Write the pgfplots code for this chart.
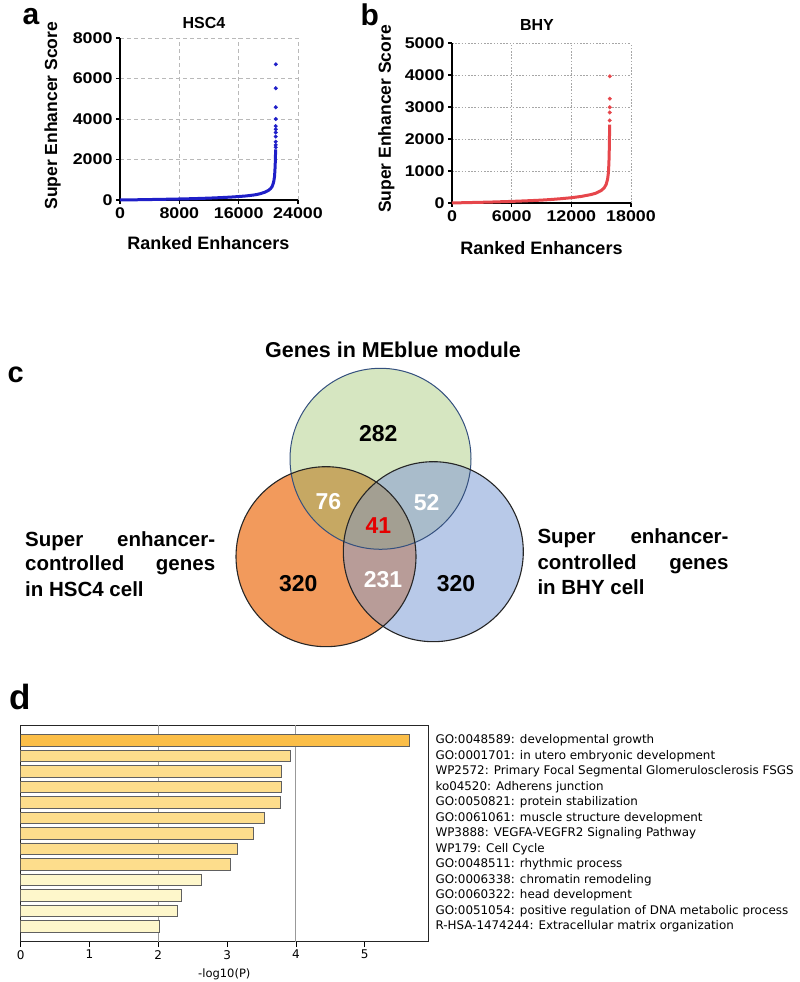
\documentclass[border=0pt]{standalone}
\usepackage{fontspec}
\setmainfont{Liberation Sans}
\newfontfamily\widefont[FakeStretch=1.15]{Liberation Sans}
\newfontfamily\dvs{DejaVu Sans}
\usepackage{pgfplots}
\pgfplotsset{compat=1.18}
\definecolor{hscblue}{HTML}{1F1FC8}
\definecolor{bhyred}{HTML}{E6464B}
\definecolor{vgreen}{HTML}{D6E6C1}
\definecolor{vorange}{HTML}{F29A5C}
\definecolor{vblue}{HTML}{B8C9E8}
\definecolor{vtl}{HTML}{C6A863}
\definecolor{vtr}{HTML}{A9BCCB}
\definecolor{vlr}{HTML}{B89C98}
\definecolor{vall}{HTML}{A39F92}
\definecolor{vedge}{HTML}{34507E}
\definecolor{barA}{HTML}{FBBE48}
\definecolor{barB}{HTML}{FDDD8C}
\definecolor{barC}{HTML}{FEF7CB}
\pgfplotsset{
  scatterpanel/.style={
    anchor=south west, scale only axis, clip=false,
    axis x line*=bottom, axis y line*=left,
    axis line style={line width=1.8pt,-},
    grid=major,
    tick align=outside, major tick length=4pt,
    tick style={line width=1.5pt, black},
    scaled ticks=false,
    /pgf/number format/1000 sep={},
    /pgf/number format/assume math mode=true,
    ticklabel style={font=\widefont\bfseries\fontsize{15.5}{16}\selectfont},
    xlabel={Ranked Enhancers}, ylabel={Super Enhancer Score},
    xlabel style={font=\bfseries\fontsize{18}{18}\selectfont, anchor=center},
    ylabel style={font=\bfseries\fontsize{17.5}{18}\selectfont, anchor=center, rotate=0},
  }
}
\begin{document}
\begin{tikzpicture}[x=1pt,y=1pt]
\useasboundingbox (0,0) rectangle (800,982);
% ---------------- panel a
\node[anchor=base west, font=\bfseries\fontsize{30}{30}\selectfont] at (19,957) {a};
\begin{axis}[scatterpanel, at={(120pt,782pt)}, width=178pt, height=162pt,
  xmin=0, xmax=24000, ymin=0, ymax=8000,
  xtick={0,8000,16000,24000}, ytick={0,2000,4000,6000,8000},
  major grid style={dash pattern=on 4pt off 3pt, gray!55, line width=0.7pt},
  xlabel style={at={(axis description cs:0.497,-0.265)}},
  ylabel style={at={(axis description cs:-0.379,0.52)}}]
\addplot[hscblue, line width=3pt, no marks] coordinates {
(0,0) (1000,5) (2000,10) (3000,15) (4000,22) (5000,28) (6000,35) (7000,42) (8000,50)
(9000,58) (10000,68) (11000,80) (12000,92) (13000,108) (14000,125) (15000,145)
(16000,170) (17000,200) (18000,245) (18500,275) (19000,320) (19500,380) (20000,470)
(20300,560) (20500,660) (20650,800) (20750,950) (20830,1150) (20880,1400)
(20920,1700) (20950,2000) (20970,2300) (20985,2500)};
\addplot[hscblue, only marks, mark=*, mark size=1.8pt] coordinates {
(20990,2600) (20993,2720) (20995,2880) (20996,3130) (20997,3330) (20998,3490)
(20999,3650) (21000,4000) (21001,4580) (21002,5520) (21003,6700)};
\end{axis}
\node[font=\bfseries\fontsize{16}{16}\selectfont] at (204,959) {HSC4};
% ---------------- panel b
\node[anchor=base west, font=\bfseries\fontsize{30}{30}\selectfont] at (357,956) {b};
\begin{axis}[scatterpanel, at={(452pt,779pt)}, width=179pt, height=160pt,
  xmin=0, xmax=18000, ymin=0, ymax=5000,
  xtick={0,6000,12000,18000}, ytick={0,1000,2000,3000,4000,5000},
  major grid style={dash pattern=on 1.6pt off 1.6pt, gray!70, line width=0.8pt},
  xlabel style={at={(axis description cs:0.5,-0.28)}},
  ylabel style={at={(axis description cs:-0.367,0.525)}}]
\addplot[bhyred, line width=3pt, no marks] coordinates {
(0,0) (1000,8) (2000,15) (3000,22) (4000,30) (5000,40) (6000,50) (7000,62) (8000,75)
(9000,90) (10000,110) (11000,135) (12000,165) (13000,205) (14000,265) (14500,310)
(15000,390) (15300,470) (15500,580) (15650,750) (15730,950) (15780,1250)
(15810,1600) (15830,1950) (15845,2250) (15855,2450)};
\addplot[bhyred, only marks, mark=*, mark size=1.8pt] coordinates {
(15860,2580) (15862,2830) (15864,2990) (15866,3260) (15870,3960)};
\end{axis}
\node[font=\bfseries\fontsize{16}{16}\selectfont] at (537,957) {BHY};
% ---------------- panel c (Venn)
\node[anchor=base west, font=\bfseries\fontsize{29}{29}\selectfont] at (4,599) {c};
\node[anchor=base, font=\bfseries\fontsize{21.5}{22}\selectfont] at (393,624.7) {Genes in MEblue module};
\def\Etop{(380.5,523.2) circle [radius=90.5]}
\def\Eleft{(326,425.3) circle [radius=90]}
\def\Eright{(433.3,430.3) circle [radius=90]}
\fill[vgreen] \Etop;
\fill[vorange] \Eleft;
\fill[vblue] \Eright;
\begin{scope}\clip \Etop; \fill[vtl] \Eleft; \fill[vtr] \Eright; \end{scope}
\begin{scope}\clip \Eleft; \fill[vlr] \Eright; \end{scope}
\begin{scope}\clip \Etop; \clip \Eleft; \fill[vall] \Eright; \end{scope}
\draw[vedge, line width=1pt] \Etop;
\draw[black!85, line width=1.1pt] \Eleft;
\draw[black!85, line width=1.1pt] \Eright;
\begin{scope}[every node/.style={font=\bfseries\fontsize{23}{23}\selectfont}]
\node at (378.3,548.7) {282};
\node[white] at (328.3,480.3) {76};
\node[white] at (426.7,479.3) {52};
\node[red!90!black] at (378.3,456) {41};
\node at (298.3,398.7) {320};
\node[white] at (383,402) {231};
\node at (456,398) {320};
\end{scope}
\begin{scope}[every node/.style={font=\bfseries\fontsize{20.5}{21}\selectfont, anchor=base west, inner sep=0pt}]
\node at (25,435.3) {\makebox[190pt][s]{Super\hfill enhancer-}};
\node at (25,411) {\makebox[190pt][s]{controlled\hfill genes}};
\node at (25,385.3) {in HSC4 cell};
\node at (537.3,438) {\makebox[191pt][s]{Super\hfill enhancer-}};
\node at (537.3,412.7) {\makebox[191pt][s]{controlled\hfill genes}};
\node at (537.3,387) {in BHY cell};
\end{scope}
% ---------------- panel d
\node[anchor=base west, font=\bfseries\fontsize{35}{35}\selectfont] at (6,272) {d};
\begin{axis}[at={(20.7pt,40.3pt)}, anchor=south west, scale only axis,
  width=407.3pt, height=216.7pt,
  xmin=0, xmax=5.92, ymin=0, ymax=14, y dir=reverse,
  xtick={0,1,2,3,4,5}, xtick pos=bottom, tick align=outside,
  major tick length=5pt, tick style={black, line width=0.8pt},
  ytick={1,...,13}, yticklabel pos=right, ytick style={draw=none},
  yticklabels={{GO:0048589: developmental growth},
    {GO:0001701: in utero embryonic development},
    {WP2572: Primary Focal Segmental Glomerulosclerosis FSGS},
    {ko04520: Adherens junction},
    {GO:0050821: protein stabilization},
    {GO:0061061: muscle structure development},
    {WP3888: VEGFA-VEGFR2 Signaling Pathway},
    {WP179: Cell Cycle},
    {GO:0048511: rhythmic process},
    {GO:0006338: chromatin remodeling},
    {GO:0060322: head development},
    {GO:0051054: positive regulation of DNA metabolic process},
    {R-HSA-1474244: Extracellular matrix organization}},
  yticklabel style={font=\dvs\fontsize{11.9}{12}\selectfont, anchor=west, xshift=-1pt},
  xticklabel style={font=\dvs\fontsize{12}{12}\selectfont},
  /pgf/number format/assume math mode=true,
  axis line style={line width=0.9pt, black!85},
  xlabel={-log10(P)}, xlabel style={font=\dvs\fontsize{11.5}{12}\selectfont, yshift=2pt},
  extra x ticks={2,4}, extra x tick labels={},
  extra x tick style={grid=major, major tick length=0pt},
  major grid style={gray!80, line width=0.9pt}]
\addplot[xbar, bar width=11.7pt, bar shift=0pt, fill=barA, draw=gray!75!black, line width=0.7pt]
  coordinates {(5.65,1)};
\addplot[xbar, bar width=11.7pt, bar shift=0pt, fill=barB, draw=gray!75!black, line width=0.7pt]
  coordinates {(3.92,2) (3.79,3) (3.79,4) (3.77,5) (3.54,6) (3.38,7) (3.15,8) (3.05,9)};
\addplot[xbar, bar width=11.7pt, bar shift=0pt, fill=barC, draw=gray!75!black, line width=0.7pt]
  coordinates {(2.63,10) (2.34,11) (2.28,12) (2.02,13)};
\end{axis}
\end{tikzpicture}
\end{document}
